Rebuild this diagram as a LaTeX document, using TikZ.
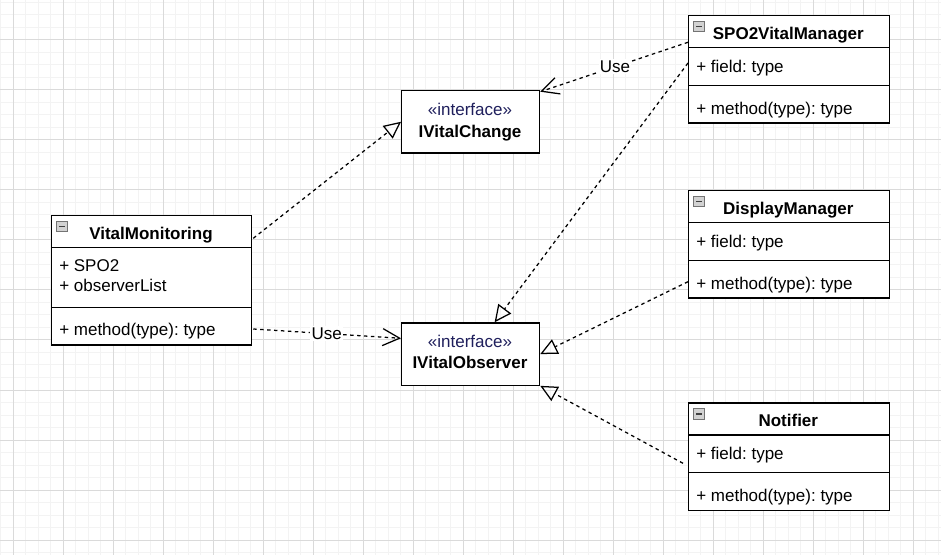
\documentclass[tikz,border=0pt]{standalone}
\usepackage{fontspec}
\setmainfont{Liberation Sans}
\usetikzlibrary{arrows.meta,calc}
\definecolor{gridminor}{HTML}{F3F3F3}
\definecolor{gridmajor}{HTML}{DADADA}
\definecolor{ifacecol}{HTML}{1F1F5C}
\frenchspacing
\begin{document}
\frenchspacing
\begin{tikzpicture}[x=0.75pt,y=-0.75pt,
  minorgrid/.style={draw=gridminor, line width=0.75pt},
  majorgrid/.style={draw=gridmajor, line width=0.75pt},
  umlbox/.style={draw=black, line width=0.94pt, fill=white, rectangle, inner sep=0pt, anchor=north west},
  divider/.style={draw=black, line width=0.94pt},
  txt/.style={inner sep=0pt, font=\fontsize{12.75pt}{15pt}\selectfont\frenchspacing},
  lefttxt/.style={txt, anchor=base west},
  titletxt/.style={txt, anchor=base, font=\fontsize{12.75pt}{15pt}\selectfont\bfseries},
  stereo/.style={txt, anchor=base, text=ifacecol},
  conn/.style={draw=black, line width=0.94pt, dash pattern=on 2.6pt off 2.6pt},
  realize/.style={conn, -{Triangle[open, length=12.75pt, width=12pt]}},
  usearrow/.style={conn, -{Straight Barb[length=12.75pt, width=12.75pt]}},
  uselabel/.style={txt, fill=white, inner sep=1pt},
  iconbox/.style={draw=gray!90!black, fill=gray!35, line width=0.6pt},
  iconminus/.style={draw=black!75, line width=1.1pt}
]
\useasboundingbox (0,0) rectangle (941,555);
\fill[white] (0,0) rectangle (941,555);
% grid
\foreach \i in {0,...,75} { \draw[minorgrid] ({0.8+12.5*\i},0) -- ({0.8+12.5*\i},555); }
\foreach \j in {0,...,44} { \draw[minorgrid] (0,{2.5+12.5*\j}) -- (941,{2.5+12.5*\j}); }
\foreach \i in {0,...,18} { \draw[majorgrid] ({13.3+50*\i},0) -- ({13.3+50*\i},555); }
\foreach \j in {0,...,10} { \draw[majorgrid] (0,{40+50*\j}) -- (941,{40+50*\j}); }

% boxes
\node[umlbox, minimum width=150pt, minimum height=97pt] (vm) at (51,215) {};
\node[umlbox, minimum width=150.4pt, minimum height=80.5pt] (spo) at (688,15) {};
\node[umlbox, minimum width=150.4pt, minimum height=80.5pt] (dm) at (688,190) {};
\node[umlbox, minimum width=150.4pt, minimum height=80.5pt] (nt) at (688,402.3) {};
\node[umlbox, minimum width=103.5pt, minimum height=46.7pt] (ivc) at (401,90) {};
\node[umlbox, minimum width=103.5pt, minimum height=46.7pt] (ivo) at (401,322.3) {};

% dividers
\draw[divider] ($(vm.north west)+(0,32.3)$) -- ($(vm.north east)+(0,32.3)$);
\draw[divider] ($(vm.north west)+(0,92.3)$) -- ($(vm.north east)+(0,92.3)$);
\foreach \b in {spo,dm,nt} {
  \draw[divider] ($(\b.north west)+(0,32.7)$) -- ($(\b.north east)+(0,32.7)$);
  \draw[divider] ($(\b.north west)+(0,70.3)$) -- ($(\b.north east)+(0,70.3)$);
}

% collapse icons
\foreach \bx/\by in {51/215, 688/15, 688/190, 688/402.3} {
  \draw[iconbox] ({\bx+5.8},{\by+6.5}) rectangle ({\bx+16.6},{\by+16.8});
  \draw[iconminus] ({\bx+8.2},{\by+11.7}) -- ({\bx+14.2},{\by+11.7});
}

% texts
\node[titletxt] (vmT) at (151,239.3) {VitalMonitoring};
\node[lefttxt] (vmA1) at (59,271.7) {+ SPO2};
\node[lefttxt] (vmA2) at (59,291.7) {+ observerList};
\node[lefttxt] (vmM) at (59,336) {+ method(type): type};

\node[titletxt] (spoT) at (788.3,39.3) {SPO2VitalManager};
\node[lefttxt] (spoF) at (696,72.7) {+ field: type};
\node[lefttxt] (spoM) at (696,114.3) {+ method(type): type};

\node[titletxt] (dmT) at (788.3,214.3) {DisplayManager};
\node[lefttxt] (dmF) at (696,247.7) {+ field: type};
\node[lefttxt] (dmM) at (696,289.3) {+ method(type): type};

\node[titletxt] (ntT) at (788.3,426.7) {Notifier};
\node[lefttxt] (ntF) at (696,459.7) {+ field: type};
\node[lefttxt] (ntM) at (696,501) {+ method(type): type};

\node[stereo] (ivcS) at (470,116) {«interface»};
\node[titletxt] (ivcT) at (470,137.3) {IVitalChange};
\node[stereo] (ivoS) at (470,347.3) {«interface»};
\node[titletxt] (ivoT) at (470,368.7) {IVitalObserver};

% connectors
\draw[realize] ($(vm.north east)+(1,23.3)$) -- (ivc.west);
\draw[usearrow] ($(vm.north east)+(1,114)$) -- node[uselabel, pos=0.497] (use1) {Use} ($(ivo.north west)+(0,16)$);
\draw[usearrow] ($(spo.north west)+(0,27.3)$) -- node[uselabel, pos=0.494] (use2) {Use} ($(ivc.north east)+(0,1.7)$);
\draw[realize] ($(spo.north west)+(0,48)$) -- ($(ivo.north)+(24,0)$);
\draw[realize] ($(dm.north west)+(0,91.7)$) -- (ivo.east);
\coordinate (ntend) at ($(nt.north west)+(-5,61)$);
\draw[realize] (ntend) -- (ivo.south east);
\end{tikzpicture}
\end{document}
